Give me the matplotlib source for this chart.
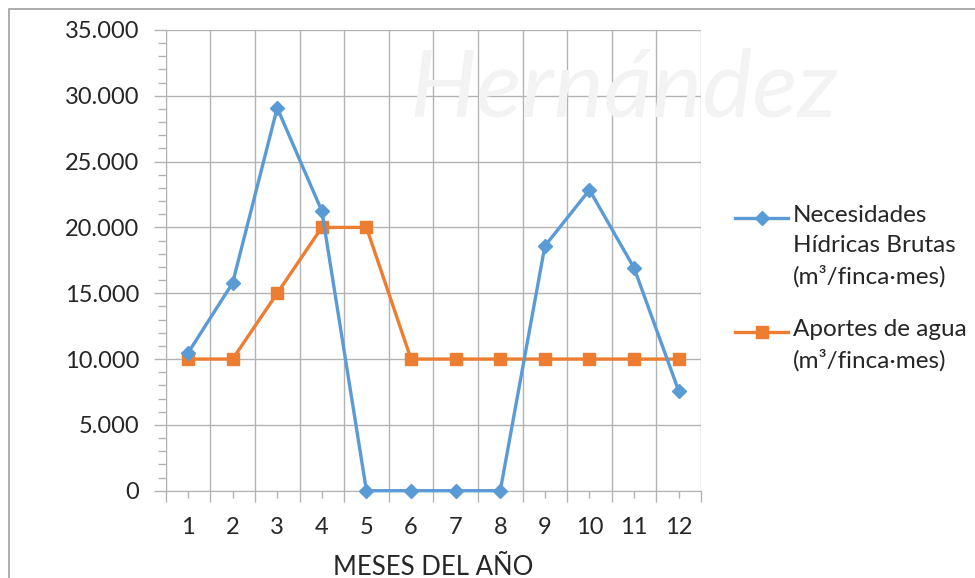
import matplotlib.pyplot as plt
from matplotlib.lines import Line2D
from matplotlib.ticker import MultipleLocator, FuncFormatter
import numpy as np

meses = [1, 2, 3, 4, 5, 6, 7, 8, 9, 10, 11, 12]
necesidades = [10460, 15780, 29080, 21250, 0, 0, 0, 0, 18590, 22850, 16920, 7580]
aportes = [10000, 10000, 15000, 20000, 20000, 10000, 10000, 10000, 10000, 10000, 10000, 10000]
labels_series = ['Necesidades\nHídricas Brutas\n(m³/finca·mes)', 'Aportes de agua\n(m³/finca·mes)']

# colors
blue = '#5B9BD5'
orange = '#ED7D31'
grid_color = '#B3B3B3'
text_color = '#262626'
fs = 17

plt.rcParams['font.family'] = ['Lato', 'DejaVu Sans']

fig = plt.figure(figsize=(9.75, 5.78), dpi=100)
fig.patch.set_facecolor('white')

# faint watermark
fig.text(0.64, 0.845, 'Hernández', fontsize=68, style='italic', color='#F3F3F3',
         ha='center', va='center', zorder=0)

# outer chart border
fig.add_artist(plt.Rectangle((9 / 975, -0.01), 1.0, 1 - 9 / 578 + 0.01, transform=fig.transFigure,
                             fill=False, edgecolor='#A0A0A0', linewidth=1.2, zorder=1))

ax = fig.add_axes([165.7 / 975, 1 - 490.7 / 578, (701 - 165.7) / 975, (490.7 - 30) / 578])
ax.patch.set_alpha(0)

ax.plot(meses, necesidades, color=blue, linewidth=2.4, marker='D', markersize=7.5,
        markerfacecolor=blue, markeredgecolor=blue, zorder=4, clip_on=False)
ax.plot(meses, aportes, color=orange, linewidth=2.4, marker='s', markersize=8,
        markerfacecolor=orange, markeredgecolor=orange, zorder=3, clip_on=False)

ax.set_xlim(0.5, 12.5)
ax.set_ylim(0, 35000)

# x axis: major ticks at category boundaries, labels at centers
ax.set_xticks(np.arange(0.5, 13, 1))
ax.set_xticklabels([])
ax.set_xticks(meses, minor=True)
ax.set_xticklabels([str(m) for m in meses], minor=True)
ax.tick_params(axis='x', which='major', length=8, width=1, color=grid_color, direction='out')
ax.tick_params(axis='x', which='minor', length=5, width=1, color=grid_color, direction='out',
               labelsize=fs, labelcolor=text_color, pad=14)

ax.yaxis.set_major_locator(MultipleLocator(5000))
ax.yaxis.set_minor_locator(MultipleLocator(1000))
ax.yaxis.set_major_formatter(FuncFormatter(lambda v, p: f'{int(v):,}'.replace(',', '.')))
ax.tick_params(axis='y', which='major', length=9, width=1, color=grid_color,
               labelsize=fs, labelcolor=text_color, pad=10)
ax.tick_params(axis='y', which='minor', length=6, width=1, color=grid_color)

ax.grid(True, which='major', color=grid_color, linewidth=1, zorder=1)
ax.set_axisbelow(True)
for s in ['top', 'right']:
    ax.spines[s].set_visible(False)
for s in ['left', 'bottom']:
    ax.spines[s].set_color(grid_color)

ax.set_xlabel('MESES DEL AÑO', fontsize=18.5, color=text_color, labelpad=12)

# legend drawn Excel-style (handle next to first line)
def legend_entry(y_top, color, marker, ms, text):
    y = 1 - y_top / 578
    fig.add_artist(Line2D([735 / 975, 761.5 / 975, 788 / 975], [y] * 3, transform=fig.transFigure,
                          color=color, linewidth=2.4, marker=marker, markersize=ms,
                          markevery=[1], markerfacecolor=color, markeredgecolor=color))
    fig.text(793 / 975, 1 - (y_top - 13) / 578, text, fontsize=17.5, color=text_color,
             ha='left', va='top', linespacing=1.5)

legend_entry(218, blue, 'D', 7.5, labels_series[0])
legend_entry(332, orange, 's', 8, labels_series[1])

plt.savefig('out.png', dpi=100, facecolor=fig.get_facecolor())
